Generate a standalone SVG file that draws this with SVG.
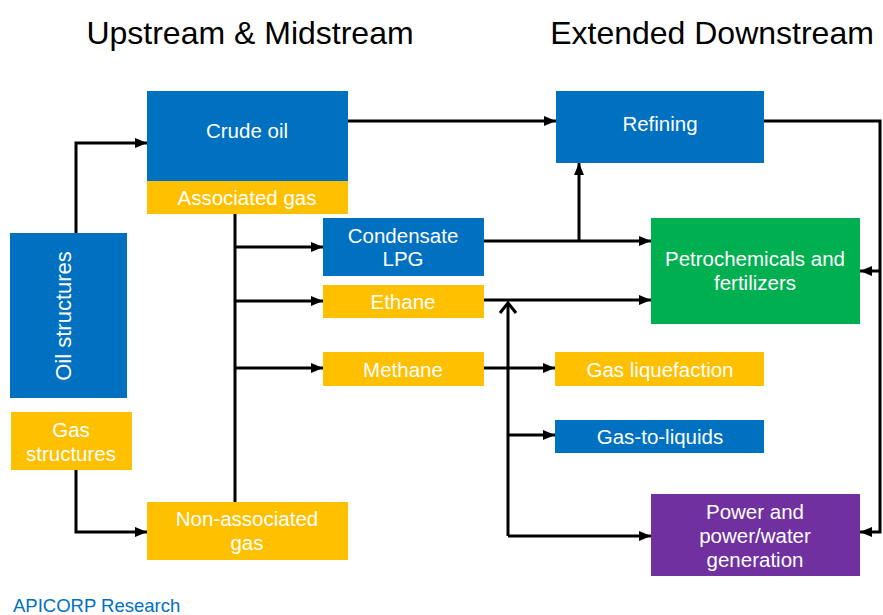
<svg xmlns="http://www.w3.org/2000/svg" width="883" height="615" viewBox="0 0 883 615">
<style>
text{font-family:"Liberation Sans",Arial,sans-serif;}
.t{fill:#fff;font-size:20.5px;text-anchor:middle;}
.h{fill:#000;font-size:32px;text-anchor:middle;}
.c{fill:none;stroke:#000;stroke-width:3;}
.blue{fill:#0070C0;}.yel{fill:#FFC000;}.grn{fill:#00B050;}.pur{fill:#7030A0;}
</style>
<defs>
<marker id="a" markerUnits="userSpaceOnUse" markerWidth="13" markerHeight="12" refX="12" refY="6" orient="auto">
<path d="M0,1 L12,6 L0,11 Z" fill="#000"/>
</marker>
</defs>
<rect width="883" height="615" fill="#fff"/>
<text class="h" x="250" y="44">Upstream &amp; Midstream</text>
<text class="h" x="712" y="44">Extended Downstream</text>

<g id="oil-structures"><rect class="blue" x="10" y="233" width="117" height="165"/><text class="t" style="font-size:22px" transform="rotate(-90 63 316)" x="63" y="324">Oil structures</text></g>
<g id="gas-structures"><rect class="yel" x="11" y="412" width="121" height="58"/><text class="t" x="71" y="437">Gas</text><text class="t" x="71" y="461">structures</text></g>
<g id="crude-oil"><rect class="blue" x="147" y="91" width="201" height="90"/><text class="t" x="247" y="138">Crude oil</text></g>
<g id="associated-gas"><rect class="yel" x="147" y="181" width="201" height="33"/><text class="t" x="247" y="205">Associated gas</text></g>
<g id="non-associated-gas"><rect class="yel" x="147" y="502" width="201" height="58"/><text class="t" x="247" y="526">Non-associated</text><text class="t" x="247" y="550">gas</text></g>
<g id="condensate"><rect class="blue" x="323" y="218" width="161" height="58"/><text class="t" x="403" y="243">Condensate</text><text class="t" x="403" y="266">LPG</text></g>
<g id="ethane"><rect class="yel" x="323" y="285" width="161" height="33"/><text class="t" x="403" y="309">Ethane</text></g>
<g id="methane"><rect class="yel" x="323" y="352" width="161" height="34"/><text class="t" x="403" y="377">Methane</text></g>
<g id="refining"><rect class="blue" x="556" y="91" width="208" height="72"/><text class="t" x="660" y="131">Refining</text></g>
<g id="petrochemicals"><rect class="grn" x="651" y="218" width="209" height="106"/><text class="t" x="755" y="266">Petrochemicals and</text><text class="t" x="755" y="290">fertilizers</text></g>
<g id="gas-liquefaction"><rect class="yel" x="555" y="352" width="209" height="34"/><text class="t" x="660" y="377">Gas liquefaction</text></g>
<g id="gas-to-liquids"><rect class="blue" x="555" y="420" width="209" height="33"/><text class="t" x="660" y="444">Gas-to-liquids</text></g>
<g id="power"><rect class="pur" x="651" y="494" width="209" height="82"/><text class="t" x="755" y="519">Power and</text><text class="t" x="755" y="543">power/water</text><text class="t" x="755" y="567">generation</text></g>

<g id="connectors">
<path class="c" d="M76,233 V143 H147" marker-end="url(#a)"/>
<path class="c" d="M76,470 V532 H147" marker-end="url(#a)"/>
<path class="c" d="M235,214 V502"/>
<path class="c" d="M235,247 H323" marker-end="url(#a)"/>
<path class="c" d="M235,301 H323" marker-end="url(#a)"/>
<path class="c" d="M235,368 H323" marker-end="url(#a)"/>
<path class="c" d="M348,121 H556" marker-end="url(#a)"/>
<path class="c" d="M484,241 H651" marker-end="url(#a)"/>
<path class="c" d="M579,241 V163" marker-end="url(#a)"/>
<path class="c" d="M484,300 H651" marker-end="url(#a)"/>
<path class="c" d="M484,368 H555" marker-end="url(#a)"/>
<path class="c" d="M508,536 V303"/>
<path class="c" d="M500,313 L508,303 L516,313"/>
<path class="c" d="M508,435 H555" marker-end="url(#a)"/>
<path class="c" d="M508,536 H651" marker-end="url(#a)"/>
<path class="c" d="M764,121 H880 V532 H860" marker-end="url(#a)"/>
<path class="c" d="M880,271 H860" marker-end="url(#a)"/>
</g>
<text x="13" y="612" fill="#0070C0" font-size="18.5">APICORP Research</text>
</svg>
